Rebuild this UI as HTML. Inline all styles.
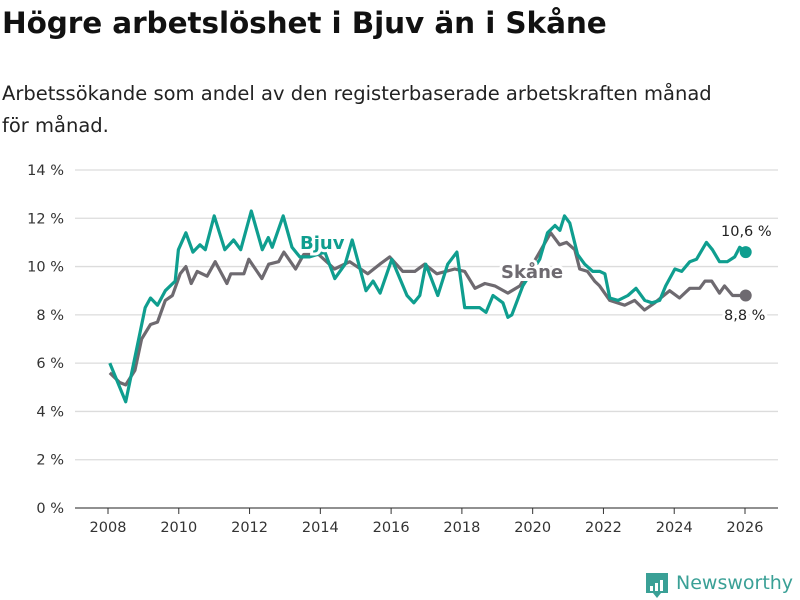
<!DOCTYPE html>
<html><head><meta charset="utf-8"><style>
body{margin:0;background:#fff;font-family:"DejaVu Sans","Liberation Sans",sans-serif;}
#wrap{position:relative;width:800px;height:600px;overflow:hidden}
h1{position:absolute;left:2px;top:6px;margin:0;font-size:29.5px;font-weight:bold;color:#111;font-family:"DejaVu Sans","Liberation Sans",sans-serif;letter-spacing:-0.1px}
p{position:absolute;left:2px;top:78px;margin:0;font-size:19.5px;line-height:32px;color:#222;width:740px}
svg{position:absolute;left:0;top:0}
</style></head><body><div id="wrap">
<h1>Högre arbetslöshet i Bjuv än i Skåne</h1>
<p>Arbetssökande som andel av den registerbaserade arbetskraften månad för månad.</p>
<svg width="800" height="600" id="chart"></svg>
</div>
<script>
const yTicks=[0,2,4,6,8,10,12,14];
const xTicks=[2008,2010,2012,2014,2016,2018,2020,2022,2024,2026];
const bjuvX=[2008.05,2008.5,2009.05,2009.2,2009.4,2009.62,2009.9,2009.99,2010.2,2010.4,2010.6,2010.75,2011.0,2011.3,2011.55,2011.75,2012.05,2012.36,2012.53,2012.64,2012.95,2013.2,2013.42,2013.7,2014.13,2014.41,2014.7,2014.9,2015.29,2015.49,2015.69,2016.02,2016.45,2016.64,2016.81,2016.98,2017.32,2017.6,2017.86,2018.08,2018.5,2018.68,2018.88,2019.16,2019.3,2019.41,2019.72,2020.2,2020.42,2020.63,2020.77,2020.9,2021.05,2021.27,2021.47,2021.7,2021.9,2022.04,2022.18,2022.41,2022.69,2022.92,2023.17,2023.37,2023.59,2023.76,2024.02,2024.21,2024.44,2024.63,2024.91,2025.08,2025.28,2025.5,2025.71,2025.85,2026.02];
const bjuvY=[6.0,4.4,8.3,8.7,8.4,9.0,9.4,10.7,11.4,10.6,10.9,10.7,12.1,10.7,11.1,10.7,12.3,10.7,11.2,10.8,12.1,10.8,10.4,10.4,10.6,9.5,10.1,11.1,9.0,9.4,8.9,10.3,8.8,8.5,8.8,10.1,8.8,10.1,10.6,8.3,8.3,8.1,8.8,8.5,7.9,8.0,9.2,10.3,11.4,11.7,11.5,12.1,11.8,10.5,10.1,9.8,9.8,9.7,8.7,8.6,8.8,9.1,8.6,8.5,8.6,9.2,9.9,9.8,10.2,10.3,11.0,10.7,10.2,10.2,10.4,10.8,10.6];
const skaneX=[2008.05,2008.33,2008.5,2008.76,2008.95,2009.2,2009.4,2009.62,2009.82,2010.04,2010.2,2010.35,2010.52,2010.8,2011.03,2011.36,2011.47,2011.84,2011.98,2012.35,2012.54,2012.82,2012.97,2013.3,2013.53,2013.95,2014.4,2014.83,2015.34,2015.68,2015.96,2016.33,2016.67,2016.95,2017.29,2017.8,2018.08,2018.37,2018.65,2018.93,2019.3,2019.64,2020.2,2020.51,2020.76,2020.96,2021.19,2021.33,2021.55,2021.75,2021.89,2022.18,2022.6,2022.88,2023.16,2023.45,2023.87,2024.15,2024.44,2024.72,2024.87,2025.06,2025.28,2025.42,2025.65,2026.02];
const skaneY=[5.6,5.2,5.1,5.7,7.0,7.6,7.7,8.6,8.8,9.7,10.0,9.3,9.8,9.6,10.2,9.3,9.7,9.7,10.3,9.5,10.1,10.2,10.6,9.9,10.5,10.5,9.9,10.2,9.7,10.1,10.4,9.8,9.8,10.1,9.7,9.9,9.8,9.1,9.3,9.2,8.9,9.2,10.6,11.4,10.9,11.0,10.7,9.9,9.8,9.4,9.2,8.6,8.4,8.6,8.2,8.5,9.0,8.7,9.1,9.1,9.4,9.4,8.9,9.2,8.8,8.8];
const svg=document.getElementById('chart');const NS='http://www.w3.org/2000/svg';
const L=75,R=778,T=170,B=508;
const xs=v=>108+(v-2008)*(745-108)/18;
const ys=v=>B-v*(B-T)/14;
function mk(t,a,p){const e=document.createElementNS(NS,t);for(const k in a)e.setAttribute(k,a[k]);(p||svg).appendChild(e);return e;}
yTicks.forEach(v=>{
 const g=mk('line',{x1:L,x2:R,y1:ys(v),y2:ys(v),stroke:'#dcdcdc','stroke-width':v===0?1.5:1.3});
 
 
 const t=mk('text',{x:64,y:ys(v)+5,'text-anchor':'end','font-size':14.5,fill:'#333','font-family':'DejaVu Sans, Liberation Sans, sans-serif'});
 t.textContent=v+' %';
 
 
});
const ax=mk('line',{x1:L,x2:R,y1:B,y2:B,stroke:'#333','stroke-width':1});


xTicks.forEach(v=>{
 const tk=mk('line',{x1:xs(v),x2:xs(v),y1:B,y2:B+6,stroke:'#333'});
 
 
 const t=mk('text',{x:xs(v),y:B+24,'text-anchor':'middle','font-size':14.5,fill:'#333','font-family':'DejaVu Sans, Liberation Sans, sans-serif'});
 t.textContent=v;
 
 
});
function line(X,Y,c,name){
 const d=X.map((x,i)=>(i?'L':'M')+xs(x).toFixed(1)+' '+ys(Y[i]).toFixed(1)).join(' ');
 const p=mk('path',{d:d,fill:'none',stroke:c,'stroke-width':3.2,'stroke-linejoin':'round'});
 
 
 const n=X.length-1;
 const dot=mk('circle',{cx:xs(X[n]),cy:ys(Y[n]),r:6,fill:c});
 
 
}
line(skaneX,skaneY,'#6e6a70','skane');
line(bjuvX,bjuvY,'#0f9e8f','bjuv');
function lab(txt,x,y,c,w,name,sz){
 const t=mk('text',{x:x,y:y,fill:c,'font-size':sz,'font-weight':w,stroke:'#fff','stroke-width':6,'paint-order':'stroke','font-family':'DejaVu Sans, Liberation Sans, sans-serif'});
 t.textContent=txt;
 
 
}
lab('Bjuv',300,249,'#0f9e8f','bold','bjuv-series-label',18);
lab('Skåne',501,278,'#6e6a70','bold','skane-series-label',18);
lab('10,6 %',721,236,'#222','normal','bjuv-end-value',14.5);
lab('8,8 %',724,320,'#222','normal','skane-end-value',14.5);
const g=mk('g',{});


mk('path',{d:'M646 573 h22 v20 h-7 l-4 5 l-4 -5 h-7 z',fill:'#3aa096'},g);
[[650,586,3,5],[655,583,3,8],[660,580,3,11]].forEach(r=>mk('rect',{x:r[0],y:r[1],width:r[2],height:r[3],fill:'#fff'},g));
const lt=mk('text',{x:676,y:589,'font-size':19,fill:'#3aa096','font-family':'DejaVu Sans, Liberation Sans, sans-serif'},g);
lt.textContent='Newsworthy';
</script></body></html>
